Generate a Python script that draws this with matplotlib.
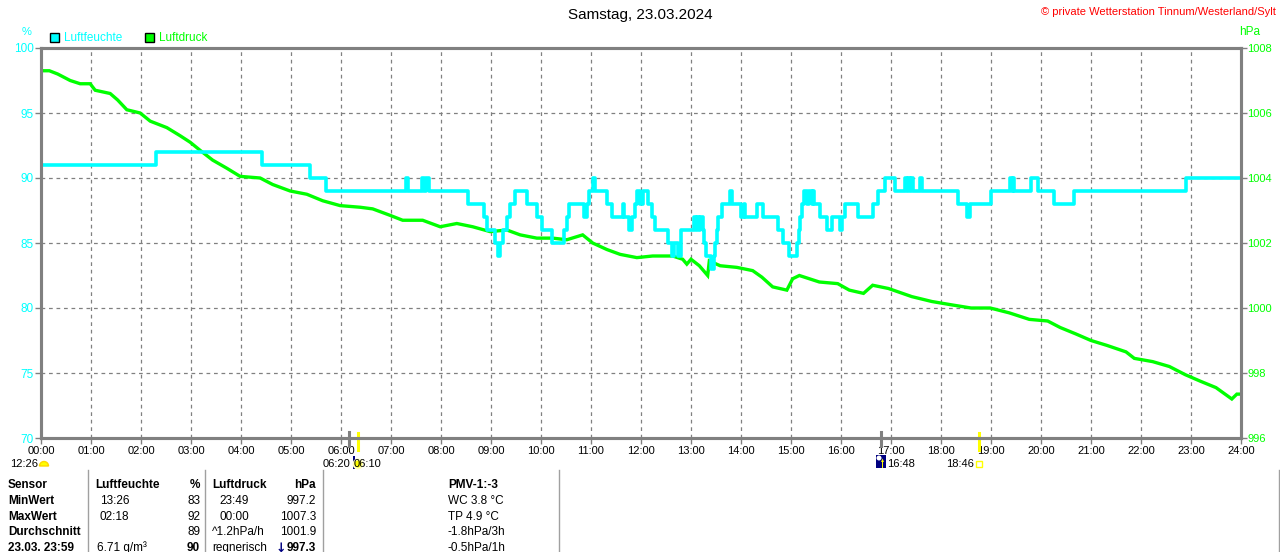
import matplotlib
matplotlib.use("Agg")
import matplotlib.pyplot as plt
import matplotlib.transforms as mtransforms
from matplotlib.patches import Rectangle, Circle, Wedge, Polygon

plt.rcParams['font.family'] = ['Liberation Sans', 'DejaVu Sans']

# ---------------- data ----------------
hum_times = ["00:00", "02:18", "04:25", "05:23", "05:42", "07:18", "07:20", "07:37", "07:40", "07:42",
             "07:46", "08:32", "08:52", "08:55", "09:05", "09:08", "09:11", "09:14", "09:19", "09:23",
             "09:29", "09:43", "09:55", "10:01", "10:13", "10:27", "10:31", "10:33", "10:51", "10:55",
             "10:58", "11:02", "11:05", "11:19", "11:25", "11:38", "11:40", "11:46", "11:49", "11:53",
             "11:55", "11:59", "12:02", "12:08", "12:13", "12:17", "12:32", "12:37", "12:40", "12:44",
             "12:48", "13:04", "13:06", "13:07", "13:10", "13:11", "13:14", "13:16", "13:18", "13:24",
             "13:28", "13:29", "13:31", "13:32", "13:37", "13:47", "13:49", "14:00", "14:03", "14:05",
             "14:19", "14:26", "14:44", "14:50", "14:57", "15:07", "15:09", "15:11", "15:13", "15:15",
             "15:19", "15:21", "15:25", "15:26", "15:27", "15:35", "15:43", "15:49", "15:59", "16:01",
             "16:05", "16:20", "16:38", "16:44", "16:53", "17:05", "17:17", "17:19", "17:20", "17:23",
             "17:24", "17:26", "17:35", "17:37", "18:20", "18:31", "18:35", "19:00", "19:23", "19:25",
             "19:26", "19:28", "19:48", "19:56", "20:16", "20:40", "22:54", "24:00"]
hum_vals = [91, 92, 91, 90, 89, 90, 89, 90, 89, 90,
            89, 88, 87, 86, 85, 84, 85, 86, 87, 88,
            89, 88, 87, 86, 85, 86, 87, 88, 87, 88,
            89, 90, 89, 88, 87, 88, 87, 86, 87, 88,
            89, 88, 89, 88, 87, 86, 85, 84, 85, 84,
            86, 87, 86, 87, 86, 87, 86, 85, 84, 83,
            84, 85, 86, 87, 88, 89, 88, 87, 88, 87,
            88, 87, 86, 85, 84, 85, 86, 87, 88, 89,
            88, 89, 88, 89, 88, 87, 86, 87, 86, 87,
            88, 87, 88, 89, 90, 89, 90, 89, 90, 89,
            90, 89, 90, 89, 88, 87, 88, 89, 90, 89,
            90, 89, 90, 89, 88, 89, 90, 90]

pres_times = ["00:00", "00:10", "00:20", "00:35", "00:47", "00:59", "01:05", "01:23", "01:32", "01:43",
              "01:59", "02:11", "02:31", "02:47", "02:59", "03:11", "03:26", "03:43", "03:59", "04:23",
              "04:38", "04:59", "05:19", "05:38", "05:59", "06:23", "06:38", "06:59", "07:14", "07:38",
              "07:59", "08:19", "08:38", "08:59", "09:19", "09:35", "09:55", "10:14", "10:31", "10:50",
              "11:02", "11:19", "11:35", "11:55", "12:14", "12:38", "12:50", "12:55", "13:00", "13:10",
              "13:20", "13:22", "13:35", "13:55", "14:14", "14:25", "14:38", "14:55", "15:02", "15:10",
              "15:34", "15:56", "16:10", "16:27", "16:38", "16:57", "17:25", "17:49", "18:12", "18:36",
              "18:59", "19:22", "19:46", "20:08", "20:23", "20:42", "21:00", "21:19", "21:42", "21:52",
              "22:14", "22:34", "22:53", "23:11", "23:30", "23:49", "23:55", "24:00"]
pres_vals = [1007.3, 1007.3, 1007.2, 1007.0, 1006.9, 1006.9, 1006.7, 1006.6, 1006.4, 1006.1,
             1006.0, 1005.75, 1005.55, 1005.3, 1005.1, 1004.85, 1004.55, 1004.3, 1004.05, 1004.0,
             1003.8, 1003.6, 1003.5, 1003.3, 1003.15, 1003.1, 1003.05, 1002.85, 1002.7, 1002.7,
             1002.5, 1002.6, 1002.5, 1002.35, 1002.4, 1002.25, 1002.15, 1002.15, 1002.1, 1002.25,
             1002.0, 1001.8, 1001.65, 1001.55, 1001.6, 1001.6, 1001.5, 1001.35, 1001.5, 1001.3,
             1001.0, 1001.45, 1001.3, 1001.25, 1001.15, 1000.95, 1000.65, 1000.55, 1000.9, 1001.0,
             1000.8, 1000.75, 1000.55, 1000.45, 1000.7, 1000.6, 1000.35, 1000.2, 1000.1, 1000.0,
             1000.0, 999.85, 999.65, 999.6, 999.4, 999.2, 999.0, 998.85, 998.65, 998.45,
             998.35, 998.2, 997.95, 997.75, 997.55, 997.2, 997.35, 997.35]

x_labels = ["%02d:00" % h for h in range(25)]
hum_ticks = [70, 75, 80, 85, 90, 95, 100]
pres_ticks = [996, 998, 1000, 1002, 1004, 1006, 1008]

sun_times = ["06:20", "18:46"]     # yellow marks
moon_times = ["06:10", "16:48"]    # gray marks

table_rows = [
    ["Sensor", "Luftfeuchte", "%", "Luftdruck", "hPa", "PMV-1:-3"],
    ["MinWert", "13:26", "83", "23:49", "997.2", "WC 3.8 °C"],
    ["MaxWert", "02:18", "92", "00:00", "1007.3", "TP 4.9 °C"],
    ["Durchschnitt", "", "89", "^1.2hPa/h", "1001.9", "-1.8hPa/3h"],
    ["23.03. 23:59", "6.71 g/m³", "90", "regnerisch", "997.3", "-0.5hPa/1h"],
]


def hours(s):
    h, m = s.split(":")
    return int(h) + int(m) / 60.0


CYAN = "#00FFFF"
GREEN = "#00FF00"
GRAY = "#808080"

W, H = 1280, 552
fig = plt.figure(figsize=(W / 100, H / 100), dpi=100)
pxT = mtransforms.Affine2D().scale(1 / W, -1 / H).translate(0, 1) + fig.transFigure

axp = fig.add_axes([41 / W, 1 - 438 / H, 1200 / W, 390 / H])
axh = axp.twinx()
axp.yaxis.tick_right()
axh.yaxis.tick_left()

axp.set_xlim(0, 24)
axp.set_ylim(996, 1008)
axh.set_ylim(70, 100)

axp.set_xticks(range(25))
axp.set_xticklabels(x_labels)
axp.set_yticks(pres_ticks)
axh.set_yticks(hum_ticks)

axp.grid(True, color=GRAY, linestyle=(0, (3, 3)), linewidth=0.9)
axp.set_axisbelow(True)

for a in (axp, axh):
    for sp in a.spines.values():
        sp.set_color(GRAY)
        sp.set_linewidth(2.2)

axp.tick_params(axis='x', colors=GRAY, labelcolor='black', labelsize=8, length=4, width=1, pad=2)
axp.tick_params(axis='y', colors=GRAY, labelcolor=GREEN, labelsize=8, length=4, width=1, pad=0.5)
axh.tick_params(axis='y', colors=GRAY, labelcolor=CYAN, labelsize=8.5, length=4, width=1, pad=1)

pt = [hours(t) for t in pres_times]
axp.plot(pt, pres_vals, color=GREEN, lw=2.4, solid_joinstyle='miter')
ht = [hours(t) for t in hum_times]
axh.step(ht, hum_vals, where='post', color=CYAN, lw=2.6)

# title and header texts
fig.text(640, 15, "Samstag, 23.03.2024", transform=pxT, ha='center', va='center', fontsize=11, color='black')
fig.text(1276, 12, "© private Wetterstation Tinnum/Westerland/Sylt", transform=pxT, ha='right', va='center',
         fontsize=8, color='red')
fig.text(27, 32, "%", transform=pxT, ha='center', va='center', fontsize=8, color=CYAN)
fig.text(1250, 32, "hPa", transform=pxT, ha='center', va='center', fontsize=8.5, color=GREEN)

# legend
fig.patches.append(Rectangle((50, 33), 9, 9, transform=pxT, facecolor=CYAN, edgecolor='black', lw=1))
fig.text(64, 38, "Luftfeuchte", transform=pxT, ha='left', va='center', fontsize=8.5, color=CYAN)
fig.patches.append(Rectangle((145, 33), 9, 9, transform=pxT, facecolor=GREEN, edgecolor='black', lw=1))
fig.text(159, 38, "Luftdruck", transform=pxT, ha='left', va='center', fontsize=8.5, color=GREEN)

# sun / moon marks under the axis
bT = mtransforms.blended_transform_factory(axp.transData, pxT)
for t in moon_times:
    axp.plot([hours(t), hours(t)], [432, 446], transform=bT, color=GRAY, lw=2.2, clip_on=False)
for t in sun_times:
    axp.plot([hours(t), hours(t)], [433, 450], transform=bT, color='#FFFF00', lw=2.2, clip_on=False)

fig.text(10, 464, "12:26", transform=pxT, ha='left', va='center', fontsize=8, color='black')
fig.patches.append(Wedge((44, 466), 4.5, 180, 360, transform=pxT, facecolor='#FFFF00', edgecolor='#FFD700'))
fig.text(323, 464, "06:20", transform=pxT, ha='left', va='center', fontsize=8, color='black')
fig.text(354, 464, "06:10", transform=pxT, ha='left', va='center', fontsize=8, color='black')
fig.patches.append(Rectangle((353, 456), 1.5, 13, transform=pxT, facecolor='#000080', edgecolor='none'))
fig.patches.append(Circle((358, 464), 5.5, transform=pxT, facecolor='#FFFFC0', edgecolor='none'))
fig.patches.append(Circle((358, 464), 3.5, transform=pxT, facecolor='#FFFF00', edgecolor='none'))
fig.patches.append(Rectangle((876, 455), 10, 13, transform=pxT, facecolor='#000080', edgecolor='none'))
fig.patches.append(Circle((879, 458), 2.5, transform=pxT, facecolor='white', edgecolor='none'))
fig.patches.append(Polygon([(881, 462), (884, 462), (882.5, 458.5)], closed=True, transform=pxT,
                           facecolor='#FFFF00', edgecolor='none'))
fig.patches.append(Rectangle((881.8, 462), 1.4, 6, transform=pxT, facecolor='#FFFF00', edgecolor='none'))
fig.text(887, 464, "16:48", transform=pxT, ha='left', va='center', fontsize=8, color='black')
fig.text(946, 464, "18:46", transform=pxT, ha='left', va='center', fontsize=8, color='black')
fig.patches.append(Rectangle((976, 461), 6, 6, transform=pxT, facecolor='white', edgecolor='#FFFF00', lw=1))

# table
for xs in (88, 205, 323, 559, 1279):
    fig.lines.append(plt.Line2D([xs, xs], [470, 552], transform=pxT, color='#A0A0A0', lw=1))

row_y = [485, 501, 517, 532, 548]
for i, row in enumerate(table_rows):
    y = row_y[i]
    hdr = (i == 0)
    fig.text(8, y, row[0], transform=pxT, ha='left', va='center', fontsize=8.5, fontweight='bold')
    fig.text(95 if hdr else (97 if i == 4 else 100), y, row[1], transform=pxT, ha='left', va='center',
             fontsize=8.5, fontweight='bold' if hdr else 'normal')
    fig.text(200, y, row[2], transform=pxT, ha='right', va='center', fontsize=8.5,
             fontweight='bold' if (hdr or i == 4) else 'normal')
    fig.text(212 if (hdr or i >= 3) else 219, y, row[3], transform=pxT, ha='left', va='center',
             fontsize=8.5, fontweight='bold' if hdr else 'normal')
    fig.text(316, y, row[4], transform=pxT, ha='right', va='center', fontsize=8.5,
             fontweight='bold' if (hdr or i == 4) else 'normal')
    fig.text(448, y, row[5], transform=pxT, ha='left', va='center', fontsize=8.5,
             fontweight='bold' if hdr else 'normal')
fig.text(276, 548, "↓", transform=pxT, ha='left', va='center', fontsize=9, fontweight='bold',
         color='#000080', family=['DejaVu Sans'])

fig.savefig("out.png", dpi=100, facecolor='white')
